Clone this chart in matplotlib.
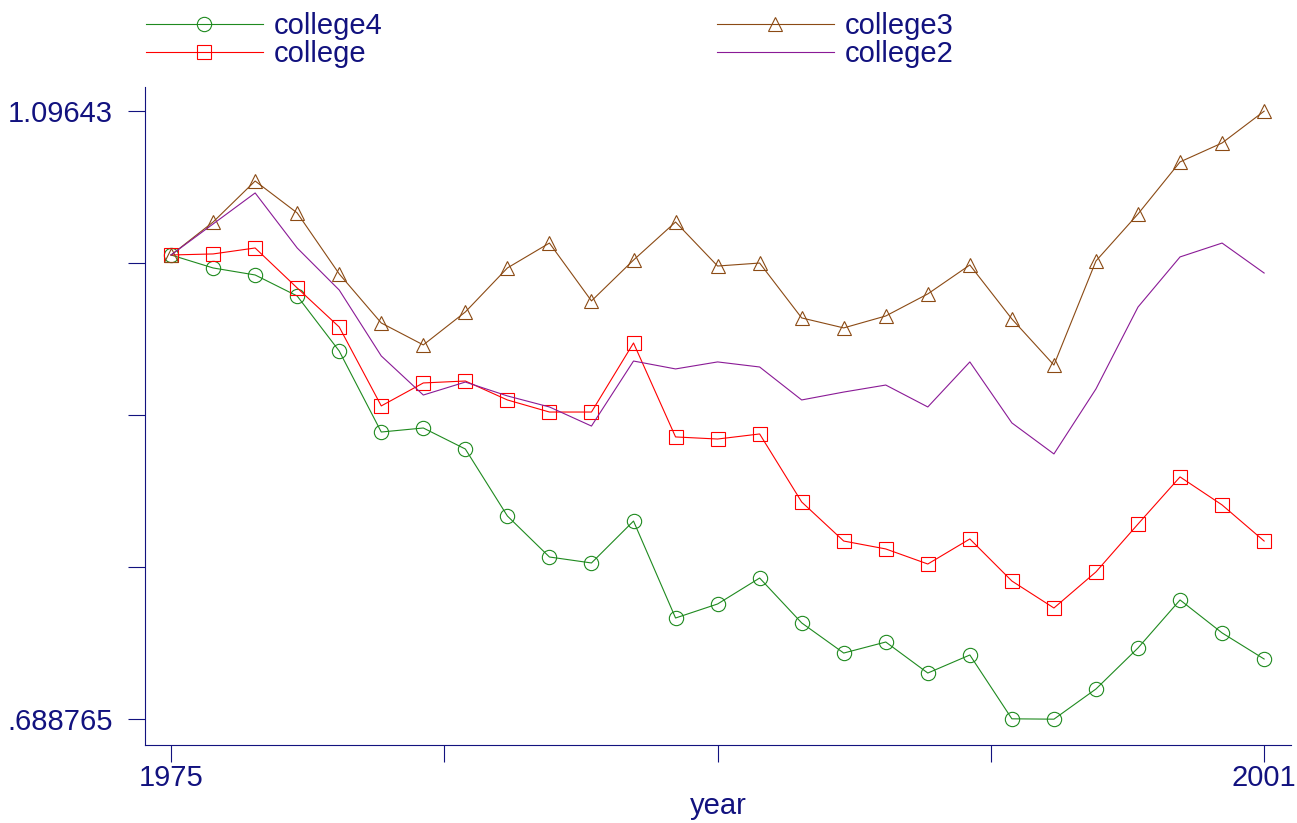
import matplotlib.pyplot as plt

years = list(range(1975, 2002))

college4 = [1.0, 0.9913, 0.9866, 0.9725, 0.9356, 0.8813, 0.8840, 0.8699, 0.8250,
            0.7975, 0.7935, 0.8216, 0.7566, 0.7660, 0.7834, 0.7533, 0.7331, 0.7405,
            0.7197, 0.7318, 0.6890, 0.688765, 0.7090, 0.7365, 0.7687, 0.7466, 0.7291]
college = [1.0, 1.0007, 1.0047, 0.9779, 0.9517, 0.8988, 0.9142, 0.9155, 0.9028,
           0.8947, 0.8947, 0.9410, 0.8780, 0.8766, 0.8800, 0.8344, 0.8082, 0.8029,
           0.7928, 0.8096, 0.7814, 0.7633, 0.7875, 0.8196, 0.8512, 0.8324, 0.8082]
college3 = [1.0, 1.0221, 1.0496, 1.0282, 0.9873, 0.9544, 0.9397, 0.9618, 0.9913,
            1.0080, 0.9692, 0.9966, 1.0221, 0.9926, 0.9946, 0.9578, 0.9511, 0.9591,
            0.9739, 0.9933, 0.9571, 0.9262, 0.9960, 1.0275, 1.0624, 1.0751, 1.09643]
college2 = [1.0, 1.0208, 1.0416, 1.0047, 0.9765, 0.9323, 0.9061, 0.9148, 0.9055,
            0.8981, 0.8853, 0.9289, 0.9236, 0.9283, 0.9249, 0.9028, 0.9081, 0.9128,
            0.8981, 0.9283, 0.8874, 0.8666, 0.9102, 0.9651, 0.9987, 1.0080, 0.9879]

xticks = [1975, 1981.5, 1988, 1994.5, 2001]
xticklabels = ["1975", "", "", "", "2001"]
yticks = [0.688765, 0.790681, 0.892597, 0.994514, 1.09643]
yticklabels = [".688765", "", "", "", "1.09643"]

navy = "#12127f"
plt.rcParams["font.family"] = ["Liberation Sans", "DejaVu Sans"]

fig = plt.figure(figsize=(12.97, 8.23), dpi=100)
ax = fig.add_axes([0.1116, 0.0948, 0.8838, 0.7995])

lw = 0.8
ms = 10.3
h4, = ax.plot(years, college4, color="#1f8a1f", lw=lw, marker="o", ms=ms,
              mfc="none", mew=0.8, label="college4")
h1, = ax.plot(years, college, color="#ff0000", lw=lw, marker="s", ms=ms,
              mfc="none", mew=0.8, label="college")
h3, = ax.plot(years, college3, color="#8b4a14", lw=lw, marker="^", ms=ms,
              mfc="none", mew=0.8, label="college3")
h2, = ax.plot(years, college2, color="#8a1a96", lw=lw, label="college2")

ax.set_xlim(1974.374, 2001.64)
ax.set_ylim(0.67146, 1.11264)
ax.set_xticks(xticks)
ax.set_xticklabels(xticklabels)
ax.set_yticks(yticks)
ax.set_yticklabels(yticklabels)

for s in ["top", "right"]:
    ax.spines[s].set_visible(False)
for s in ["left", "bottom"]:
    ax.spines[s].set_color(navy)
    ax.spines[s].set_linewidth(0.8)
ax.tick_params(axis="y", direction="out", length=12, width=0.8, color=navy,
               labelcolor=navy, labelsize=21, pad=11)
ax.tick_params(axis="x", direction="out", length=12, width=0.8, color=navy,
               labelcolor=navy, labelsize=21, pad=2)
ax.set_xlabel("year", color=navy, fontsize=21, labelpad=0)

fig.legend(handles=[h4, h1, h3, h2], ncol=2, loc="upper left",
           bbox_to_anchor=(0.0924, 1.017), frameon=False, fontsize=21,
           numpoints=1, handlelength=4.0, handletextpad=0.38,
           columnspacing=11.47, labelspacing=0.0, labelcolor=navy)

fig.savefig("out.png", dpi=100)
